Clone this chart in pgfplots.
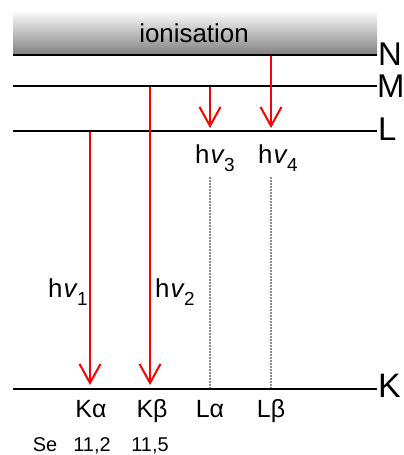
\documentclass[border=0pt]{standalone}
\usepackage{pgfplots}
\pgfplotsset{compat=1.18}
\usepackage{fontspec}
\setmainfont{Liberation Sans}
\usetikzlibrary{arrows.meta}
\newcommand{\hnu}[1]{h\kern0.04em{\itshape v}\kern0.02em\raisebox{-0.34em}{\fontsize{19}{19}\selectfont #1}}
\begin{document}
\begin{tikzpicture}
\begin{axis}[scale only axis, width=404bp, height=455bp,
  xmin=0, xmax=404, ymin=0, ymax=455, y dir=reverse,
  axis lines=none, clip=false]
% ionisation band
\addplot[draw=none, top color=white, bottom color=black!50] coordinates {(13,10) (377,10) (377,55) (13,55)} -- cycle;
% energy levels
\addplot[black, line width=2bp] coordinates {(13,55) (377,55)};
\addplot[black, line width=2bp] coordinates {(13,86) (377,86)};
\addplot[black, line width=2bp] coordinates {(13,131) (377,131)};
\addplot[black, line width=2bp] coordinates {(13,389) (377,389)};
% dotted guides
\addplot[black!45, line width=1.2bp, dash pattern=on 2bp off 1bp] coordinates {(210,177) (210,388)};
\addplot[black!45, line width=1.2bp, dash pattern=on 2bp off 1bp] coordinates {(271,177) (271,388)};
% transitions
\addplot[red, line width=2bp, -{Straight Barb[length=19bp,width=21bp]}] coordinates {(90,132) (90,385)};
\addplot[red, line width=2bp, -{Straight Barb[length=19bp,width=21bp]}] coordinates {(150,87) (150,385)};
\addplot[red, line width=2bp, -{Straight Barb[length=19bp,width=21bp]}] coordinates {(210,87) (210,128)};
\addplot[red, line width=2bp, -{Straight Barb[length=19bp,width=21bp]}] coordinates {(271,56) (271,128)};
% texts
\node[font=\fontsize{26}{26}\selectfont, anchor=base] at (axis cs:194,43) {ionisation};
\node[font=\fontsize{33}{33}\selectfont, anchor=west, inner sep=0pt] at (axis cs:378,54) {N};
\node[font=\fontsize{33}{33}\selectfont, anchor=west, inner sep=0pt] at (axis cs:377,86) {M};
\node[font=\fontsize{33}{33}\selectfont, anchor=west, inner sep=0pt] at (axis cs:378,129) {L};
\node[font=\fontsize{34}{34}\selectfont, anchor=west, inner sep=0pt] at (axis cs:378,386) {K};
\node[font=\fontsize{26}{26}\selectfont, anchor=base west, inner sep=0pt] at (axis cs:48,297) {\hnu{1}};
\node[font=\fontsize{26}{26}\selectfont, anchor=base west, inner sep=0pt] at (axis cs:155,297) {\hnu{2}};
\node[font=\fontsize{26}{26}\selectfont, anchor=base west, inner sep=0pt] at (axis cs:195,163) {\hnu{3}};
\node[font=\fontsize{26}{26}\selectfont, anchor=base west, inner sep=0pt] at (axis cs:258,163) {\hnu{4}};
\node[font=\fontsize{25}{25}\selectfont, anchor=base] at (axis cs:91,417) {Kα};
\node[font=\fontsize{25}{25}\selectfont, anchor=base] at (axis cs:152,417) {Kβ};
\node[font=\fontsize{25}{25}\selectfont, anchor=base] at (axis cs:210,417) {Lα};
\node[font=\fontsize{25}{25}\selectfont, anchor=base] at (axis cs:271,417) {Lβ};
\node[font=\fontsize{20}{20}\selectfont, anchor=base] at (axis cs:45,451) {Se};
\node[font=\fontsize{20}{20}\selectfont, anchor=base] at (axis cs:92,451) {11,2};
\node[font=\fontsize{20}{20}\selectfont, anchor=base] at (axis cs:150,451) {11,5};
\coordinate (BL) at (axis cs:0,455);
\coordinate (TR) at (axis cs:404,0);
\end{axis}
\pgfresetboundingbox
\useasboundingbox (BL) rectangle (TR);
\end{tikzpicture}
\end{document}
